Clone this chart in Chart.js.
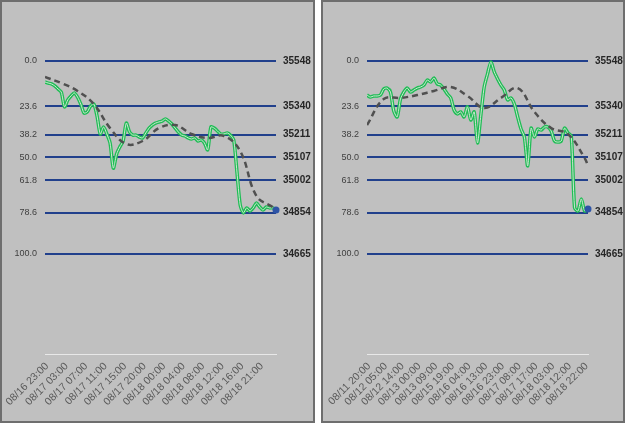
<!DOCTYPE html>
<html>
<head>
<meta charset="utf-8">
<script src="https://cdn.jsdelivr.net/npm/chart.js@4"></script>
<style>
  body { margin: 0; background: #fff; }
  .panel { position: absolute; top: 0; height: 423px; box-sizing: border-box; border: 2px solid #6e6e6e; background: #c0c0c0; }
  #p1 { left: 0; width: 315px; }
  #p2 { left: 321px; width: 304px; }
  canvas { display: block; }
</style>
</head>
<body>
<div class="panel" id="p1"><canvas id="chart1" width="311" height="419"></canvas></div>
<div class="panel" id="p2"><canvas id="chart2" width="300" height="419"></canvas></div>
<script>
// fibonacci retracement levels (same on both panels)
var fibPct = ["0.0", "23.6", "38.2", "50.0", "61.8", "78.6", "100.0"];
var fibPrice = [35548, 35340, 35211, 35107, 35002, 34854, 34665];
var yMin = 34207.5, yMax = 35731;

// left panel
var labels1 = ["08/16 23:00", "08/17 03:00", "08/17 07:00", "08/17 11:00", "08/17 15:00", "08/17 20:00",
  "08/18 00:00", "08/18 04:00", "08/18 08:00", "08/18 12:00", "08/18 16:00", "08/18 21:00"];
var labelStep1 = 6;
var price1 = [35452, 35447, 35443, 35434, 35420, 35406, 35338, 35370, 35388, 35402,
  35383, 35351, 35310, 35315, 35342, 35351, 35296, 35214, 35246, 35214,
  35173, 35058, 35122, 35155, 35182, 35264, 35223, 35209, 35209, 35200,
  35196, 35219, 35241, 35255, 35264, 35269, 35273, 35283, 35273, 35260,
  35241, 35223, 35209, 35205, 35196, 35191, 35196, 35182, 35187, 35173,
  35141, 35246, 35241, 35228, 35214, 35214, 35219, 35209, 35187, 35040,
  34889, 34853, 34876, 34862, 34876, 34898, 34880, 34866, 34880, 34876,
  34876, 34866];
var maIndex1 = [0, 5, 10, 15, 20, 25, 30, 35, 40, 45, 50, 55, 60, 65, 70];
var ma1 = [35475, 35447, 35411, 35351, 35241, 35168, 35182, 35241, 35255, 35214, 35196, 35205, 35136, 34930, 34880];

// right panel
var labels2 = ["08/11 20:00", "08/12 05:00", "08/12 14:00", "08/13 00:00", "08/13 09:00", "08/15 19:00", "08/16 04:00",
  "08/16 13:00", "08/16 23:00", "08/17 08:00", "08/17 17:00", "08/18 03:00", "08/18 12:00", "08/18 22:00"];
var labelStep2 = 5;
var price2 = [35392, 35383, 35388, 35388, 35392, 35420, 35424, 35406, 35319, 35292,
  35374, 35406, 35424, 35406, 35415, 35424, 35429, 35438, 35461, 35452,
  35470, 35443, 35438, 35420, 35397, 35379, 35324, 35306, 35315, 35292,
  35338, 35278, 35315, 35173, 35301, 35429, 35489, 35543, 35498, 35466,
  35438, 35415, 35370, 35379, 35351, 35292, 35237, 35200, 35068, 35241,
  35200, 35237, 35232, 35246, 35246, 35228, 35182, 35177, 35182, 35241,
  35219, 35205, 34876, 34862, 34917, 34862, 34871];
var maIndex2 = [0, 5, 10, 15, 20, 25, 30, 35, 40, 45, 50, 55, 60, 65, 66];
var ma2 = [35255, 35374, 35379, 35392, 35411, 35429, 35388, 35333, 35379, 35424, 35315, 35241, 35214, 35104, 35068];

var fontFamily = "'Liberation Sans', Arial, sans-serif";

function makeChart(id, prices, maIdx, maVals, tickLabels, step, leftW, rightW) {
  var last = prices.length - 1;
  var line = prices.map(function (v, i) { return { x: i, y: v }; });
  var ma = maIdx.map(function (x, i) { return { x: x, y: maVals[i] }; });

  return new Chart(document.getElementById(id), {
    type: "line",
    data: {
      datasets: [{
        data: [{ x: last, y: prices[last] }],
        showLine: false,
        clip: false,
        pointRadius: 3.5,
        pointBackgroundColor: "#2e54a6",
        pointBorderWidth: 0,
        order: 0
      }, {
        data: ma,
        borderColor: "#505050",
        borderWidth: 2.5,
        borderDash: [6, 4],
        pointRadius: 0,
        tension: 0.4,
        order: 1
      }, {
        data: line,
        borderColor: "#cde6d1",
        borderWidth: 1,
        pointRadius: 0,
        tension: 0.25,
        order: 2
      }, {
        data: line,
        borderColor: "#1fbd55",
        borderWidth: 3.5,
        pointRadius: 0,
        tension: 0.25,
        order: 3
      }]
    },
    options: {
      responsive: false,
      animation: false,
      layout: { padding: { top: 19, left: 0, right: 0, bottom: 0 } },
      plugins: { legend: { display: false }, tooltip: { enabled: false } },
      scales: {
        x: {
          type: "linear",
          min: 0,
          max: last,
          grid: { display: false, drawTicks: false },
          border: { display: true, color: "#e8e8e8", width: 1 },
          ticks: {
            autoSkip: false,
            minRotation: 45,
            maxRotation: 45,
            padding: 6,
            labelOffset: 2,
            color: "#595959",
            font: { family: fontFamily, size: 10.5 },
            callback: function (v) {
              var t = tickLabels[v / step];
              return t === undefined ? "" : t;
            }
          },
          afterBuildTicks: function (s) {
            s.ticks = tickLabels.map(function (_, j) { return { value: j * step }; });
          },
          afterFit: function (s) {
            s.height = 67;
            s.paddingLeft = 0;
            s.paddingRight = 0;
          }
        },
        y: {
          position: "left",
          min: yMin,
          max: yMax,
          grid: { display: false, drawTicks: false },
          border: { display: false },
          ticks: {
            padding: 8,
            color: "#404040",
            font: { family: fontFamily, size: 9 },
            callback: function (v, i) { return fibPct[i]; }
          },
          afterBuildTicks: function (s) {
            s.ticks = fibPrice.map(function (v) { return { value: v }; });
          },
          afterFit: function (s) {
            s.width = leftW;
            s.paddingTop = 0;
            s.paddingBottom = 0;
          }
        },
        y2: {
          position: "right",
          min: yMin,
          max: yMax,
          grid: { color: "#21408c", lineWidth: 2, drawTicks: false },
          border: { display: false },
          ticks: {
            padding: 7,
            color: "#262626",
            font: { family: fontFamily, size: 10, weight: "bold" },
            callback: function (v) { return String(v); }
          },
          afterBuildTicks: function (s) {
            s.ticks = fibPrice.map(function (v) { return { value: v }; });
          },
          afterFit: function (s) {
            s.width = rightW;
            s.paddingTop = 0;
            s.paddingBottom = 0;
          }
        }
      }
    }
  });
}

makeChart("chart1", price1, maIndex1, ma1, labels1, labelStep1, 43, 37);
makeChart("chart2", price2, maIndex2, ma2, labels2, labelStep2, 44, 35);
</script>
</body>
</html>
